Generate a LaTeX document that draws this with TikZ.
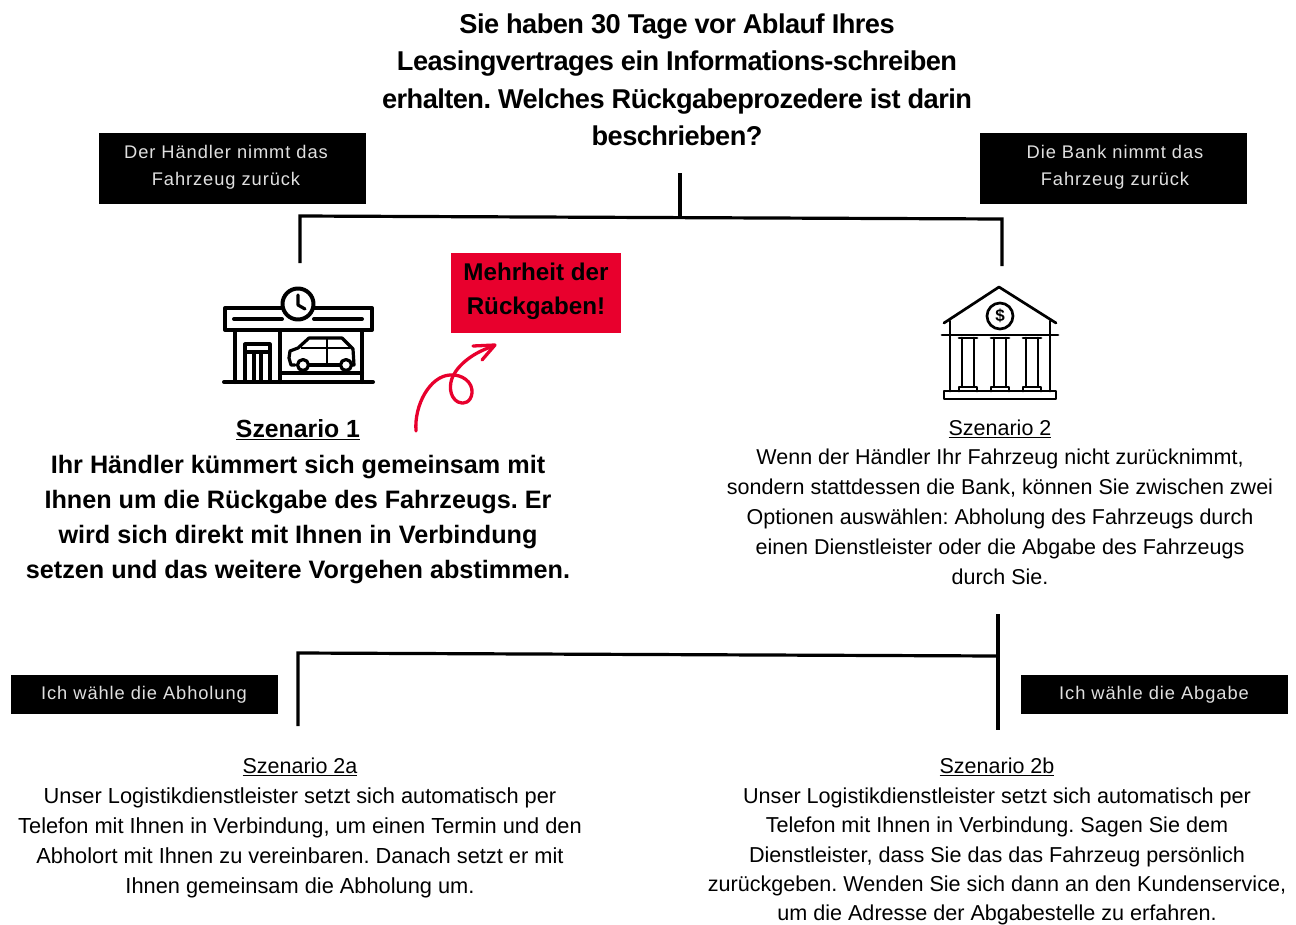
\documentclass[tikz,border=0pt]{standalone}
\usepackage{fontspec}
\setmainfont{Liberation Sans}
\newfontfamily\titlefont[LetterSpace=-2]{Liberation Sans}
\newfontfamily\boxfont[LetterSpace=5]{Liberation Sans}
\definecolor{redbox}{HTML}{E8002D}
\frenchspacing
\tikzset{
  bluntline/.style={line width=3.2pt,black},
  boxlabel/.style={text=white!88!black,inner sep=0pt,align=center,font=\boxfont\fontsize{18.3}{27}\selectfont},
  blackbox/.style={boxlabel,fill=black,minimum width=267pt},
  bodytext/.style={align=center,inner sep=0pt,font=\fontsize{21.5}{30}\selectfont},
  boldtext/.style={align=center,inner sep=0pt,font=\fontsize{25.2}{35}\selectfont\bfseries},
  titletext/.style={align=center,inner sep=0pt,font=\titlefont\fontsize{27.2}{37.5}\selectfont\bfseries},
  icon/.style={line width=4pt,line join=round,line cap=round},
  iconthin/.style={line width=3.2pt,line join=round,line cap=round},
  bankline/.style={line width=2.7pt,line join=round,line cap=round}
}
\begin{document}
\begin{tikzpicture}[x=1pt,y=-1pt]
\useasboundingbox (0,0) rectangle (1296,924);
\node[titletext] (title) at (677,80) {Sie haben 30 Tage vor Ablauf Ihres\\Leasingvertrages ein Informations-schreiben\\erhalten. Welches Rückgabeprozedere ist darin\\beschrieben?};
\fill[black] (99,133) rectangle (366,204);
\fill[black] (980,133) rectangle (1247,204);
\node[boxlabel] (dealerbox) at (226,167) {Der Händler nimmt das\\Fahrzeug zurück};
\node[boxlabel] (bankbox) at (1115,167) {Die Bank nimmt das\\Fahrzeug zurück};
\fill[redbox] (451,253) rectangle (621,333);
\node[inner sep=0pt,align=center,font=\fontsize{24.2}{34}\selectfont\bfseries] (majority) at (536,291) {Mehrheit der\\Rückgaben!};
\node[blackbox,minimum height=39pt] (pickupbox) at (144,694.5) {Ich wähle die Abholung};
\node[blackbox,minimum height=39pt] (returnbox) at (1154,694.5) {Ich wähle die Abgabe};
% connectors
\coordinate (stemtop) at (680,173);
\coordinate (stemfoot) at (680,218);
\coordinate (barleft) at (300,216);
\coordinate (barright) at (1002,219);
\coordinate (dealerend) at (300,263);
\coordinate (bankend) at (1002,266);
\draw[bluntline] (stemtop) -- (stemfoot);
\draw[bluntline] (dealerend) -- (barleft) -- (barright) -- (bankend);
\coordinate (lowtop) at (998,614);
\coordinate (lowend) at (998,730);
\coordinate (lowleft) at (298,653);
\coordinate (lowright) at (998,656);
\coordinate (pickend) at (298,726);
\draw[bluntline] (lowtop) -- (lowend);
\draw[bluntline] (pickend) -- (lowleft) -- (lowright);
% store icon
\draw[icon] (225,308) rectangle (372,330);
\draw[icon] (234,319) -- (282,319) (314,319) -- (362,319);
\draw[icon,fill=white] (298,304) circle (15.5);
\draw[iconthin] (298,295) -- (298,305) -- (305,309);
\draw[icon] (224,382) -- (373,382);
\draw[icon] (235,330) -- (235,382) (280,330) -- (280,382) (362,330) -- (362,382);
\draw[iconthin] (245,382) -- (245,344) -- (270,344) -- (270,382);
\draw[iconthin] (245,352) -- (270,352) (254,352) -- (254,382) (261,352) -- (261,382);
\draw[icon] (281,373) -- (362,373);
\draw[iconthin] (295,365) -- (291,365) -- (289,358) -- (290,351) -- (298,348) -- (309,338) -- (342,338) -- (353,349) -- (354,365) -- (351,365);
\draw[iconthin] (309,365) -- (340,365);
\draw[line width=2.4pt] (301,348) -- (350,348) (327,338) -- (327,365);
\draw[iconthin,fill=white] (303,365) circle (5.5) (346,365) circle (5.5);
% bank icon
\draw[bankline] (944,323) -- (999,287) -- (1056,323);
\draw[bankline] (942,335) -- (1058,335);
\draw[bankline] (950,321) -- (950,391) (1050,321) -- (1050,391);
\draw[bankline] (1000,316) circle (13);
\node[inner sep=0pt,font=\fontsize{17}{17}\selectfont\bfseries] (dollar) at (1000,316) {\$};
\foreach \c in {968,1000,1032}{
  \draw[bankline] (\c-9,338) -- (\c+9,338) (\c-6,338) -- (\c-6,386) (\c+6,338) -- (\c+6,386);
  \draw[bankline] (\c-9,391) -- (\c-9,387) -- (\c+9,387) -- (\c+9,391);
}
\draw[bankline] (944,391) rectangle (1056,399);
% red arrow
\draw[redbox,line width=3.3pt,line cap=round,line join=round] (416,431) .. controls (414,405) and (430,376) .. (450,375) .. controls (462,374) and (473,382) .. (472,393) .. controls (471,402) and (464,405) .. (458,402) .. controls (449,397) and (449,384) .. (453,376) .. controls (459,364) and (474,352) .. (494,346);
\draw[redbox,line width=3.3pt,line cap=round,line join=round] (473,346) -- (495,345) -- (482,360);
% texts
\node[inner sep=0pt,font=\fontsize{24.8}{30}\selectfont\bfseries] (s1) at (298,430) {\underline{Szenario 1}};
\node[boldtext] (s1text) at (298,520) {Ihr Händler kümmert sich gemeinsam mit\\Ihnen um die Rückgabe des Fahrzeugs. Er\\wird sich direkt mit Ihnen in Verbindung\\setzen und das weitere Vorgehen abstimmen.};
\node[bodytext] (s2) at (1000,429) {\underline{Szenario 2}};
\node[bodytext] (s2text) at (1000,517) {Wenn der Händler Ihr Fahrzeug nicht zurücknimmt,\\sondern stattdessen die Bank, können Sie zwischen zwei\\Optionen auswählen: Abholung des Fahrzeugs durch\\einen Dienstleister oder die Abgabe des Fahrzeugs\\durch Sie.};
\node[bodytext] (s2a) at (300,767) {\underline{Szenario 2a}};
\node[bodytext,font=\fontsize{21.8}{30}\selectfont] (s2atext) at (300,842.5) {Unser Logistikdienstleister setzt sich automatisch per\\Telefon mit Ihnen in Verbindung, um einen Termin und den\\Abholort mit Ihnen zu vereinbaren. Danach setzt er mit\\Ihnen gemeinsam die Abholung um.};
\node[bodytext] (s2b) at (997,767) {\underline{Szenario 2b}};
\node[bodytext,font=\fontsize{21.6}{29.3}\selectfont] (s2btext) at (997,856.5) {Unser Logistikdienstleister setzt sich automatisch per\\Telefon mit Ihnen in Verbindung. Sagen Sie dem\\Dienstleister, dass Sie das das Fahrzeug persönlich\\zurückgeben. Wenden Sie sich dann an den Kundenservice,\\um die Adresse der Abgabestelle zu erfahren.};
\end{tikzpicture}
\end{document}
